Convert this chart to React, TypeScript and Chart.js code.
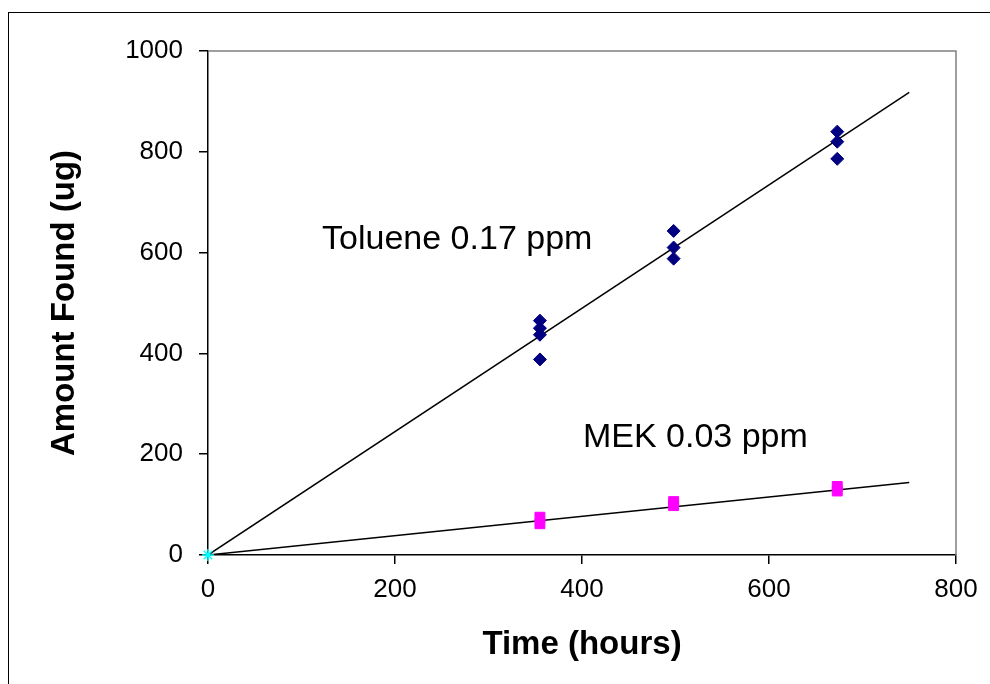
import React, { useEffect, useRef } from "react";
import { Chart, registerables } from "chart.js";

Chart.register(...registerables);

const tolueneHours = [355, 355, 355, 355, 498, 498, 498, 673, 673, 673];
const tolueneAmounts = [465, 450, 437, 388, 643, 610, 588, 840, 820, 786];
const mekHours = [355, 355, 498, 498, 673, 673];
const mekAmounts = [75, 62, 106, 98, 136, 127];
const originHours = [0];
const originAmounts = [0];
const fitHours = [0, 750];
const tolueneFit = [0, 918];
const mekFit = [0, 144];
const xTickValues = [0, 200, 400, 600, 800];
const yTickValues = [0, 200, 400, 600, 800, 1000];
const labelTexts = ["Toluene 0.17 ppm", "MEK 0.03 ppm"];
const labelHours = [122, 401];
const labelAmounts = [625, 232];

const FONT = "'Liberation Sans', Arial, sans-serif";

const zip = (xs: number[], ys: number[]) => xs.map((x, i) => ({ x, y: ys[i] }));

const annotationPlugin = {
  id: "annotations",
  afterDatasetsDraw(chart: any) {
    const { ctx, scales } = chart;
    ctx.save();
    ctx.fillStyle = "#000";
    ctx.font = `34px ${FONT}`;
    ctx.textBaseline = "middle";
    ctx.textAlign = "left";
    labelTexts.forEach((t, i) => {
      ctx.fillText(t, scales.x.getPixelForValue(labelHours[i]), scales.y.getPixelForValue(labelAmounts[i]));
    });
    ctx.restore();
  },
  beforeDatasetsDraw(chart: any) {
    const { ctx, chartArea } = chart;
    ctx.save();
    ctx.strokeStyle = "#808080";
    ctx.lineWidth = 1.5;
    ctx.beginPath();
    ctx.moveTo(chartArea.left, chartArea.top);
    ctx.lineTo(chartArea.right, chartArea.top);
    ctx.lineTo(chartArea.right, chartArea.bottom);
    ctx.stroke();
    ctx.restore();
  },
};

export default function App() {
  const ref = useRef<HTMLCanvasElement | null>(null);
  useEffect(() => {
    if (!ref.current) return;
    const chart = new Chart(ref.current, {
      type: "scatter",
      data: {
        datasets: [
          {
            label: "Toluene fit",
            data: zip(fitHours, tolueneFit),
            showLine: true,
            borderColor: "#000",
            borderWidth: 1.5,
            pointRadius: 0,
            order: 5,
          },
          {
            label: "MEK fit",
            data: zip(fitHours, mekFit),
            showLine: true,
            borderColor: "#000",
            borderWidth: 1.5,
            pointRadius: 0,
            order: 5,
          },
          {
            label: "Toluene",
            data: zip(tolueneHours, tolueneAmounts),
            pointStyle: "rectRot",
            pointRadius: 6.5,
            backgroundColor: "#000080",
            borderColor: "#000080",
            borderWidth: 1,
            order: 1,
          },
          {
            label: "MEK",
            data: zip(mekHours, mekAmounts),
            pointStyle: "rect",
            pointRadius: 7,
            backgroundColor: "#FF00FF",
            borderColor: "#FF00FF",
            borderWidth: 1,
            order: 1,
          },
          {
            label: "Origin",
            data: zip(originHours, originAmounts),
            pointStyle: "star",
            pointRadius: 6,
            backgroundColor: "#00FFFF",
            borderColor: "#00FFFF",
            borderWidth: 1.5,
            clip: false,
            order: 0,
          },
        ],
      },
      options: {
        animation: false,
        responsive: false,
        maintainAspectRatio: false,
        layout: { padding: { top: 51, right: 34, left: 0, bottom: 0 } },
        plugins: { legend: { display: false }, tooltip: { enabled: false } },
        scales: {
          x: {
            type: "linear",
            min: 0,
            max: 800,
            afterBuildTicks: (s: any) => {
              s.ticks = xTickValues.map((v) => ({ value: v }));
            },
            afterFit: (s: any) => {
              s.height = 129;
            },
            ticks: { color: "#000", font: { family: FONT, size: 26 }, padding: 10, callback: (v: any) => String(v) },
            grid: { drawOnChartArea: false, drawTicks: true, tickLength: 9, color: "#000", lineWidth: 1.5 },
            border: { display: true, color: "#000", width: 1.5 },
            title: {
              display: true,
              text: "Time (hours)",
              color: "#000",
              font: { family: FONT, size: 33, weight: "bold" },
              padding: { top: 0, bottom: 19 },
            },
          },
          y: {
            type: "linear",
            min: 0,
            max: 1000,
            afterBuildTicks: (s: any) => {
              s.ticks = yTickValues.map((v) => ({ value: v }));
            },
            afterFit: (s: any) => {
              s.width = 208;
            },
            ticks: { color: "#000", font: { family: FONT, size: 26 }, padding: 16, callback: (v: any) => String(v) },
            grid: { drawOnChartArea: false, drawTicks: true, tickLength: 9, color: "#000", lineWidth: 1.5 },
            border: { display: true, color: "#000", width: 1.5 },
            title: {
              display: true,
              text: "Amount Found (ug)",
              color: "#000",
              font: { family: FONT, size: 33, weight: "bold" },
              padding: { top: 45, bottom: 0 },
            },
          },
        },
      },
      plugins: [annotationPlugin],
    });
    return () => chart.destroy();
  }, []);

  return (
    <div style={{ position: "fixed", left: 0, top: 0, width: 990, height: 684, overflow: "hidden", background: "#fff" }}>
      <div
        style={{
          position: "absolute",
          left: 8,
          top: 12,
          width: 1010,
          height: 700,
          border: "1.5px solid #000",
          boxSizing: "border-box",
        }}
      />
      <canvas ref={ref} width={990} height={684} style={{ position: "absolute", left: 0, top: 0, width: 990, height: 684 }} />
    </div>
  );
}
